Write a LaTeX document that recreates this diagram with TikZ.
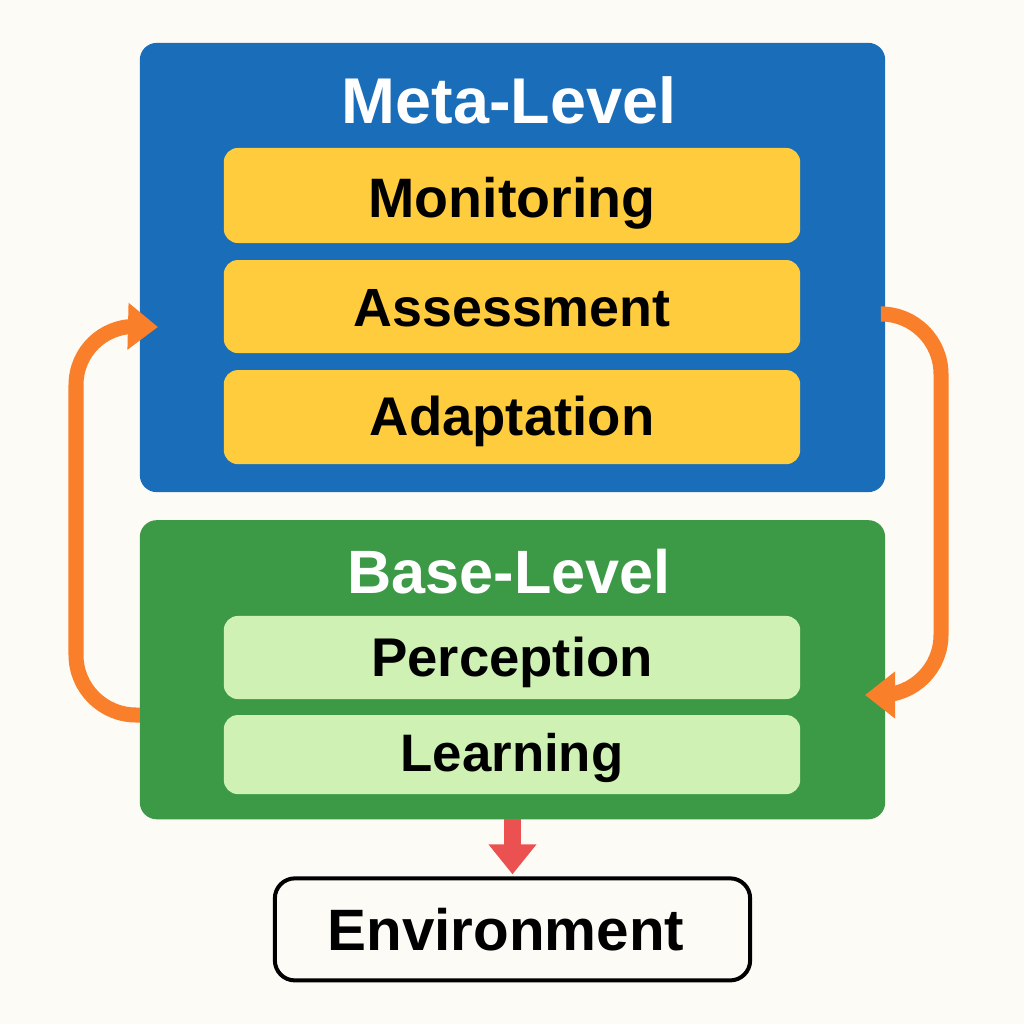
\documentclass[tikz,border=0pt]{standalone}
\usepackage{fontspec}
\setmainfont{Liberation Sans}
\usetikzlibrary{positioning, calc, arrows.meta}
\definecolor{metablue}{HTML}{1A6DB8}
\definecolor{basegreen}{HTML}{3C9A47}
\definecolor{subyellow}{HTML}{FFCC3E}
\definecolor{sublight}{HTML}{CFF1B4}
\definecolor{looporange}{HTML}{F97F2A}
\definecolor{downred}{HTML}{EB5150}
\definecolor{paper}{HTML}{FDFBF6}
\tikzstyle{level} = [rectangle,rounded corners=0.17cm,minimum width=7.45cm,outer sep=0pt]
\tikzstyle{inner} = [rectangle,rounded corners=0.14cm,minimum width=5.76cm,outer sep=0pt,font=\fontsize{15.5pt}{18pt}\selectfont\bfseries,text=black,text height=0.45cm,text depth=0.09cm]
\tikzstyle{title} = [font=\fontsize{18.4pt}{22pt}\selectfont\bfseries,text=white,inner sep=0pt]
\tikzstyle{connector} = [-{Triangle[length=0.3cm,width=0.45cm]},line width=0.15cm,looporange,rounded corners=0.6cm]
\begin{document}
\begin{tikzpicture}[x=0.01cm,y=-0.01cm]
	\fill[paper] (0,0) rectangle (1024,1024);
	\useasboundingbox (0,0) rectangle (1024,1024);

	% the two level boxes
	\node[level, fill=metablue, minimum height=4.49cm] (meta) at (512.5,267.5) {};
	\node[level, fill=basegreen, minimum height=2.99cm, below = 0.28cm of meta] (base) {};

	\node[title] (metatitle) at (509,100) {Meta-Level};
	\node[title, font=\fontsize{17.4pt}{22pt}\selectfont\bfseries] (basetitle) at (509,572) {Base-Level};

	% inner boxes of the meta level
	\node[inner, fill=subyellow, minimum height=0.95cm, text height=0.53cm, font=\fontsize{15.8pt}{18pt}\selectfont\bfseries] (monitoring) at (512,195.5) {Monitoring};
	\node[inner, fill=subyellow, minimum height=0.93cm, text height=0.49cm, font=\fontsize{15.3pt}{18pt}\selectfont\bfseries, below = 0.17cm of monitoring] (assessment) {Assessment};
	\node[inner, fill=subyellow, minimum height=0.94cm, below = 0.17cm of assessment] (adaptation) {Adaptation};

	% inner boxes of the base level
	\node[inner, fill=sublight, minimum height=0.83cm, text height=0.47cm] (perception) at (512,657.5) {Perception};
	\node[inner, fill=sublight, minimum height=0.79cm, text height=0.43cm, font=\fontsize{15pt}{18pt}\selectfont\bfseries, below = 0.16cm of perception] (learning) {Learning};

	\node[rectangle, draw=black, line width=0.04cm, fill=paper, rounded corners=0.2cm,
		minimum width=4.75cm, minimum height=1.02cm, outer sep=0pt, font=\fontsize{16.6pt}{22pt}\selectfont\bfseries,
		below = 0.59cm of base] (environment) {Environment\kern0.13cm};

	% now link the nodes
	\coordinate (leftout) at (base.west |- 0,715);
	\coordinate (leftin) at (158,327);
	\coordinate (rightout) at (meta.east |- 0,314);
	\coordinate (rightin) at (865,695);
	\draw [connector] (leftout) -- (76,715) -- (76,325) -- (leftin);
	\draw [connector] (rightout) -- (941,314) -- (941,695) -- (rightin);
	\draw [-{Triangle[length=0.3cm,width=0.46cm]}, line width=0.17cm, downred, shorten >=0.04cm] (base.south) -- (environment.north);
\end{tikzpicture}
\end{document}
